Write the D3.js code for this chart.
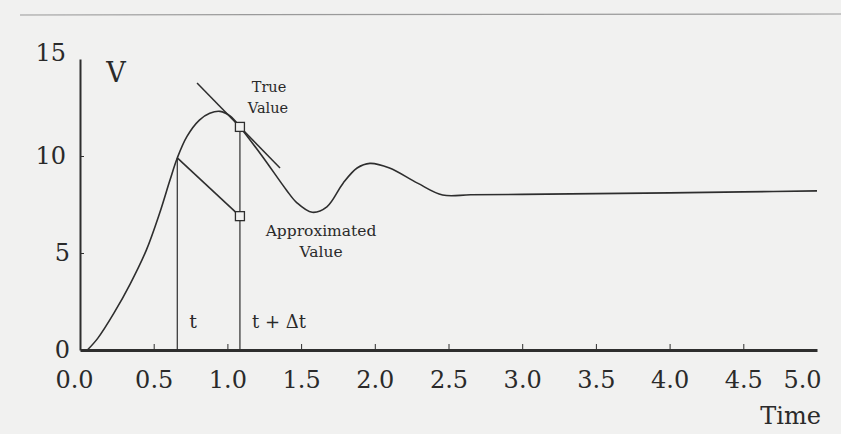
<!DOCTYPE html>
<html>
<head>
<meta charset="utf-8">
<script src="https://cdn.jsdelivr.net/npm/d3@7"></script>
<style>
  html, body { margin: 0; padding: 0; background: #f1f1f0; }
  svg { display: block; }
  text { font-family: "DejaVu Serif", "Liberation Serif", serif; fill: #2a2a2a; }
</style>
</head>
<body>
<svg id="chart" width="841" height="434"></svg>
<script>
// True response V(t)
const trueT = [0.05, 0.12, 0.23, 0.34, 0.45, 0.54, 0.61, 0.66, 0.725, 0.81, 0.88, 0.95, 1.02, 1.085, 1.24, 1.40, 1.47, 1.575, 1.675, 1.785, 1.88, 1.967, 2.10, 2.29, 2.46, 2.65, 3.0, 3.5, 4.0, 4.5, 5.0];
const trueV = [0, 0.6, 1.9, 3.4, 5.15, 7.05, 8.75, 9.9, 11.0, 11.85, 12.2, 12.3, 12.05, 11.5, 9.95, 8.25, 7.6, 7.1, 7.38, 8.6, 9.38, 9.62, 9.38, 8.6, 7.99, 8.0, 8.02, 8.06, 8.1, 8.15, 8.2];

// Euler step: from t to t + dt
const stepT = [0.66, 1.085];
const approxV = [9.9, 6.9];
const trueAtStep = 11.5;

// tangent to the true curve at t + dt
const tangentT = [0.794, 1.357];
const tangentV = [13.76, 9.38];

const xTicks = [0, 0.5, 1, 1.5, 2, 2.5, 3, 3.5, 4, 4.5, 5];
const yTicks = [0, 5, 10, 15];

const svg = d3.select('#chart');
const ink = '#2e2e2e';

const x = d3.scaleLinear().domain([0, 5]).range([80, 817]);
const y = d3.scaleLinear().domain([0, 15]).range([350, 59]);

// scanned page edge
svg.append('line')
  .attr('x1', 20).attr('x2', 841)
  .attr('y1', 15).attr('y2', 14)
  .attr('stroke', '#9a9a9a')
  .attr('stroke-width', 1.2);

// x axis
const xAxis = svg.append('g')
  .attr('transform', `translate(0,${y(0)})`)
  .call(d3.axisBottom(x)
    .tickValues(xTicks)
    .tickFormat(d3.format('.1f'))
    .tickSizeInner(-6)
    .tickSizeOuter(0)
    .tickPadding(21));
xAxis.select('.domain').attr('stroke', ink).attr('stroke-width', 3);
xAxis.selectAll('.tick line').attr('stroke', ink).attr('stroke-width', 1);
xAxis.selectAll('.tick text')
  .attr('font-size', 24)
  .attr('font-family', '"DejaVu Serif", serif')
  .attr('fill', '#2a2a2a')
  .attr('dx', d => d === 0 ? -6 : d === 5 ? -15 : 0);
xAxis.selectAll('.tick').filter(d => d === 0 || d === 5).select('line').remove();

// y axis
const yAxis = svg.append('g')
  .attr('transform', `translate(${x(0)},0)`)
  .call(d3.axisLeft(y)
    .tickValues(yTicks)
    .tickSizeInner(-4)
    .tickSizeOuter(0)
    .tickPadding(13));
yAxis.select('.domain').attr('stroke', ink).attr('stroke-width', 2);
yAxis.selectAll('.tick line').attr('stroke', ink).attr('stroke-width', 1);
yAxis.selectAll('.tick').filter(d => d === 0 || d === 15).select('line').remove();
yAxis.selectAll('.tick text')
  .attr('font-size', 24)
  .attr('font-family', '"DejaVu Serif", serif')
  .attr('fill', '#2a2a2a')
  .attr('dx', d => d < 10 ? 3 : -1)
  .attr('dy', d => d === 15 ? '0.05em' : '0.32em');

// true curve
const truePts = trueT.map((t, i) => [t, trueV[i]]);
const line = d3.line()
  .x(d => x(d[0]))
  .y(d => y(d[1]))
  .curve(d3.curveCatmullRom.alpha(0.5));

svg.append('path')
  .datum(truePts)
  .attr('d', line)
  .attr('fill', 'none')
  .attr('stroke', ink)
  .attr('stroke-width', 1.6);

// tangent
svg.append('line')
  .attr('x1', x(tangentT[0])).attr('y1', y(tangentV[0]))
  .attr('x2', x(tangentT[1])).attr('y2', y(tangentV[1]))
  .attr('stroke', ink)
  .attr('stroke-width', 1.5);

// approximated step
svg.append('path')
  .datum(stepT.map((t, i) => [t, approxV[i]]))
  .attr('d', d3.line().x(d => x(d[0])).y(d => y(d[1])))
  .attr('fill', 'none')
  .attr('stroke', ink)
  .attr('stroke-width', 1.6);

// verticals at t and t + dt
svg.append('line')
  .attr('x1', x(stepT[0])).attr('x2', x(stepT[0]))
  .attr('y1', y(approxV[0])).attr('y2', y(0))
  .attr('stroke', ink).attr('stroke-width', 1.2);
svg.append('line')
  .attr('x1', x(stepT[1])).attr('x2', x(stepT[1]))
  .attr('y1', y(trueAtStep)).attr('y2', y(0))
  .attr('stroke', ink).attr('stroke-width', 1.2);

// markers
const sq = 9;
svg.selectAll('rect.marker')
  .data([[stepT[1], trueAtStep], [stepT[1], approxV[1]]])
  .enter().append('rect')
  .attr('class', 'marker')
  .attr('x', d => x(d[0]) - sq / 2)
  .attr('y', d => y(d[1]) - sq / 2)
  .attr('width', sq).attr('height', sq)
  .attr('fill', '#f1f1f0')
  .attr('stroke', ink)
  .attr('stroke-width', 1.3);

// labels
const label = (txt, px, py, size, anchor) => svg.append('text')
  .attr('x', px).attr('y', py)
  .attr('font-size', size)
  .attr('text-anchor', anchor || 'middle')
  .text(txt);

label('V', 116, 82, 27);
label('True', 269, 92, 14.5);
label('Value', 268, 113, 14.5);
label('Approximated', 321, 236, 15.5);
label('Value', 321, 257, 15.5);
label('t', 193, 328, 19);
label('t + Δt', 279, 328, 18);
label('Time', 821, 424, 24, 'end');
</script>
</body>
</html>
